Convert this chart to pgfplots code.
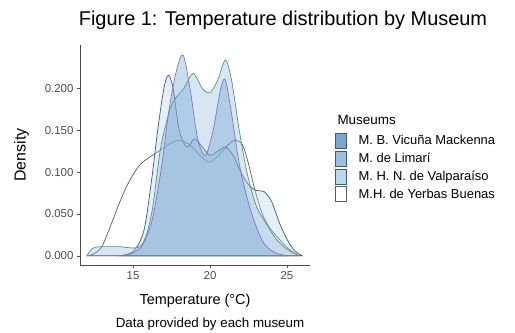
\documentclass[border=0pt]{standalone}
\usepackage{pgfplots}
\pgfplotsset{compat=1.18}
\usepackage{fontspec}
\setmainfont{Liberation Sans}
\definecolor{tickgray}{HTML}{4D4D4D}
\definecolor{cA}{HTML}{6A9CCC}
\definecolor{cB}{HTML}{8FB8DE}
\definecolor{cC}{HTML}{B5D1EA}
\definecolor{cD}{HTML}{FFFFFF}
\definecolor{oA}{HTML}{7F78C0}
\definecolor{oB}{HTML}{4E9A72}
\definecolor{oC}{HTML}{3C5A78}
\definecolor{oD}{HTML}{555C64}
\begin{document}
\begin{tikzpicture}[x=1bp,y=1bp]
\path[use as bounding box] (0,0) rectangle (515,332);
\begin{axis}[
  at={(80bp,67bp)}, anchor=south west,
  scale only axis, width=230bp, height=220bp,
  xmin=11.55, xmax=26.5, ymin=-0.011, ymax=0.252,
  axis x line*=bottom, axis y line*=left,
  axis line style={tickgray, line width=0.6pt},
  xtick={15,20,25}, ytick={0,0.05,0.1,0.15,0.2},
  yticklabel style={/pgf/number format/.cd, fixed, fixed zerofill, precision=3},
  /pgf/number format/assume math mode=true,
  tick style={tickgray, line width=0.6pt}, tick align=outside, major tick length=3bp,
  ticklabel style={font=\fontsize{11.5}{13}\selectfont, text=tickgray},
  xlabel={Temperature (°C)}, ylabel={Density},
  xlabel style={font=\fontsize{14.5}{16}\selectfont, at={(axis description cs:0.5,0)}, anchor=base, yshift=-39bp},
  ylabel style={font=\fontsize{16}{18}\selectfont, yshift=9bp},
  legend style={at={(1.109,0.6)}, anchor=north west, draw=none, fill=none,
    font=\fontsize{13}{14}\selectfont, row sep=2bp, inner sep=0pt},
  legend cell align=left,
  legend image code/.code={\draw[#1] (0bp,-7.5bp) rectangle (11bp,7.5bp); \path[draw=none,fill=none] (0bp,0bp) -- (21bp,0bp);},
  every axis plot/.append style={smooth, tension=0.5, line width=0.7pt, fill opacity=0.35},
]
\addlegendimage{fill=cA, draw=oC, fill opacity=0.9}
\addlegendentry{M. B. Vicuña Mackenna}
\addlegendimage{fill=cB, draw=oC, fill opacity=0.9}
\addlegendentry{M. de Limarí}
\addlegendimage{fill=cC, draw=oC, fill opacity=0.9}
\addlegendentry{M. H. N. de Valparaíso}
\addlegendimage{fill=cD, draw=oD}
\addlegendentry{M.H. de Yerbas Buenas}

% wide curve
\addplot[draw=oD, fill=cD, forget plot] coordinates {
(12.1,0) (12.6,0.004) (13.0,0.012) (13.5,0.034) (14.0,0.058) (14.5,0.08) (15.0,0.097) (15.5,0.11) (16.0,0.117) (16.75,0.126) (17.4,0.134) (17.9,0.138) (18.5,0.135) (19.0,0.127) (19.5,0.117) (20.0,0.112) (20.6,0.121) (21.2,0.133) (21.6,0.138) (22.1,0.133) (22.5,0.11) (22.9,0.08) (23.4,0.05) (23.9,0.033) (24.4,0.022) (25.0,0.01) (25.5,0.003) (25.8,0)
} \closedcycle;
% Valparaiso-like
\addplot[draw=oC, fill=cC, forget plot] coordinates {
(14.0,0) (15.0,0.005) (15.7,0.03) (16.2,0.09) (16.6,0.15) (17.0,0.2) (17.3,0.216) (17.6,0.2) (18.0,0.15) (18.5,0.13) (19.0,0.14) (19.5,0.13) (20.0,0.12) (20.5,0.125) (21.0,0.13) (21.5,0.12) (22.0,0.1) (22.5,0.085) (23.0,0.078) (23.5,0.077) (24.0,0.065) (24.5,0.04) (25.0,0.02) (25.5,0.006) (26.0,0)
} \closedcycle;
% Limari-like
\addplot[draw=oB, fill=cB, forget plot] coordinates {
(12.0,0) (12.5,0.01) (14.0,0.011) (15.5,0.012) (16.2,0.05) (16.8,0.13) (17.5,0.18) (18.3,0.2) (18.9,0.218) (19.5,0.2) (20.0,0.195) (20.5,0.21) (21.0,0.234) (21.4,0.21) (21.9,0.15) (22.4,0.1) (23.0,0.06) (23.6,0.04) (24.3,0.02) (25.0,0.008) (25.8,0)
} \closedcycle;
% Vicuna-like
\addplot[draw=oA, fill=cA, forget plot] coordinates {
(14.5,0) (15.5,0.01) (16.2,0.04) (16.8,0.1) (17.3,0.17) (17.8,0.22) (18.25,0.24) (18.7,0.2) (19.2,0.14) (19.7,0.12) (20.2,0.15) (20.7,0.2) (21.0,0.21) (21.4,0.17) (21.9,0.11) (22.4,0.07) (22.9,0.04) (23.5,0.015) (24.2,0.004) (25.0,0)
} \closedcycle;
\end{axis}
\node[anchor=base, font=\fontsize{20}{22}\selectfont] at (283,307) {Figure 1: Temperature distribution by Museum};
\node[anchor=base west, font=\fontsize{13.5}{15}\selectfont] at (334,208) {Museums};
\node[anchor=base, font=\fontsize{13.4}{15}\selectfont] at (210,5) {Data provided by each museum};
\end{tikzpicture}
\end{document}
